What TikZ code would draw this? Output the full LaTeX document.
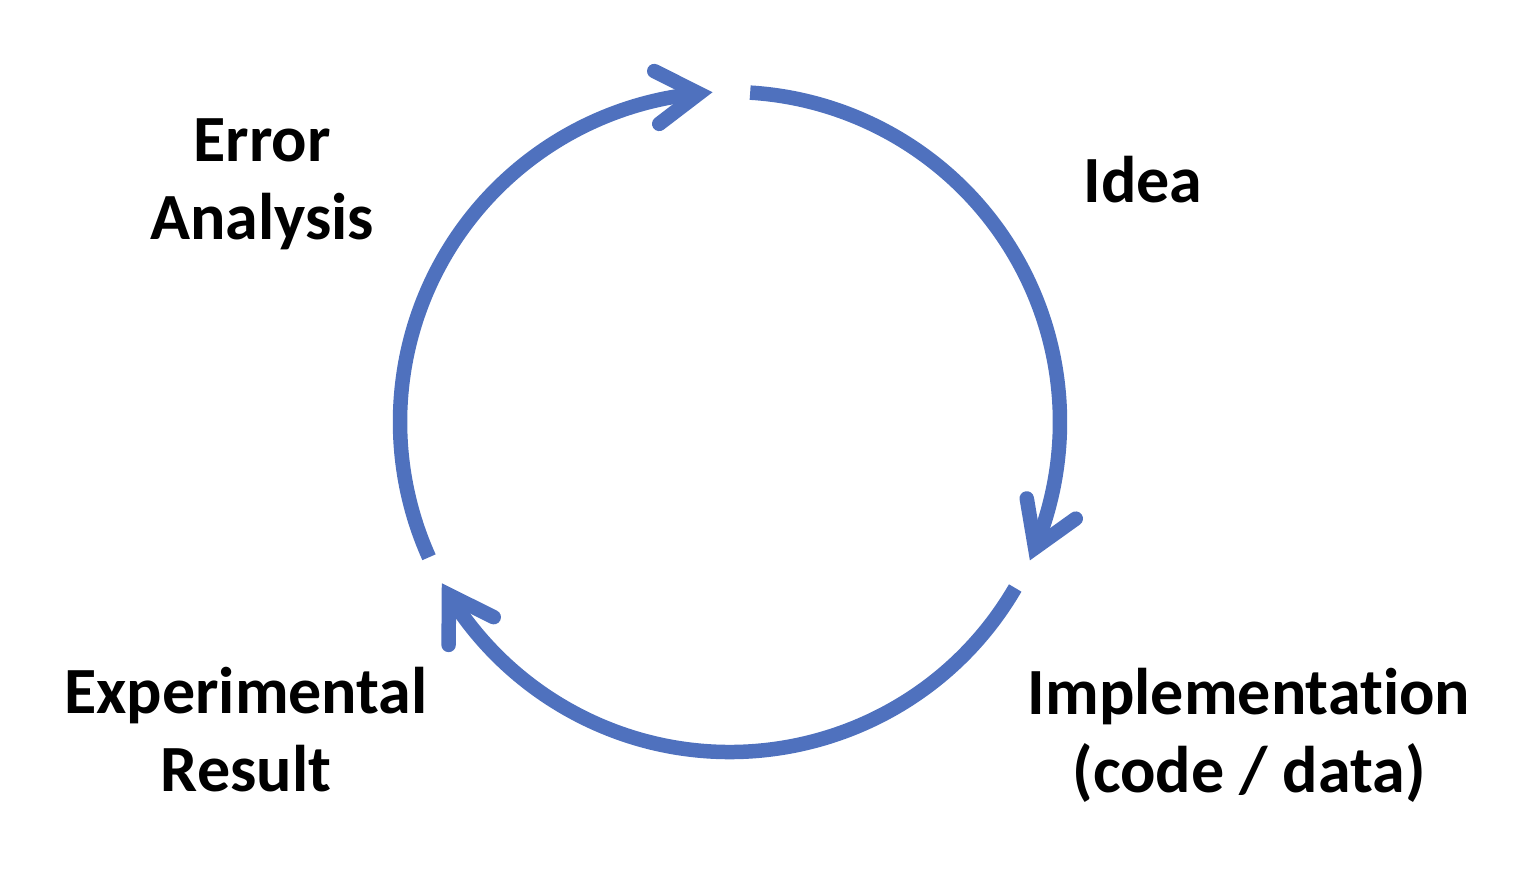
\documentclass[tikz,border=0pt]{standalone}
\usepackage{fontspec}
\setmainfont[Ligatures={NoCommon,NoRare}]{Carlito}
\usetikzlibrary{calc}
\definecolor{cyc}{HTML}{4F71BE}
\begin{document}
\begin{tikzpicture}[x=1pt,y=1pt,
  cyclearc/.style={draw=cyc,line width=14.5pt,line cap=butt},
  headline/.style={draw=cyc,line width=14.5pt,line cap=round,line join=miter,miter limit=10},
  lab/.style={font=\fontsize{66}{78}\selectfont\bfseries,align=center,inner sep=0pt}]
\useasboundingbox (0,0) rectangle (1520,868);
\coordinate (C) at (730,446);
% arc end points
\coordinate (a1s) at ($(C)+(86.5:330pt)$);
\coordinate (a1e) at ($(C)+(-22.4:330pt)$);
\coordinate (a2s) at ($(C)+(-30.2:330pt)$);
\coordinate (a2e) at ($(C)+(211.6:330pt)$);
\coordinate (a3s) at ($(C)+(204.2:330pt)$);
\coordinate (a3e) at ($(C)+(95.4:330pt)$);
% arcs
\draw[cyclearc] (a1s) arc[start angle=86.5,end angle=-22.4,radius=330pt];
\draw[cyclearc] (a2s) arc[start angle=-30.2,end angle=-148.4,radius=330pt];
\draw[cyclearc] (a3s) arc[start angle=204.2,end angle=95.4,radius=330pt];
% arrowheads
\draw[headline] (a1e) ++(99.6:50pt) -- (a1e) -- ++(35.6:50pt);
\draw[headline] (a2e) ++(333.6:50pt) -- (a2e) -- ++(269.6:50pt);
\draw[headline] (a3e) ++(217.4:50pt) -- (a3e) -- ++(153.4:50pt);
% labels
\node[lab,anchor=base] (idea) at (1143,665) {Idea};
\node[lab,anchor=base] (impl) at (1249,76) {Implementation\\(code / data)};
\node[lab,anchor=base] (expr) at (246,77) {Experimental\\Result};
\node[lab,anchor=base] (err) at (262,628) {Error\\Analysis};
\end{tikzpicture}
\end{document}
